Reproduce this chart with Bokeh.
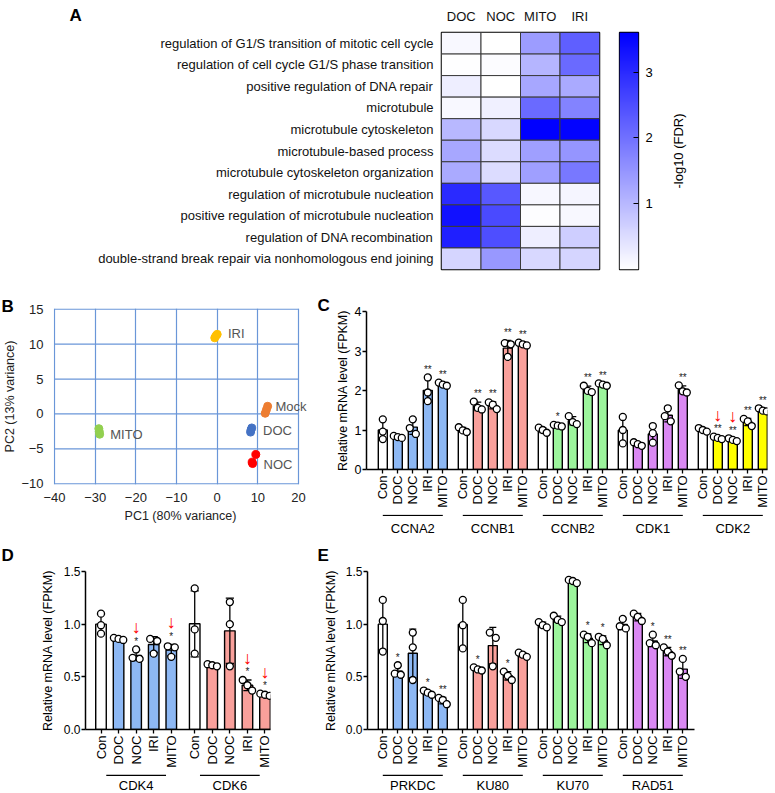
import math
import numpy as np
from bokeh.plotting import figure
from bokeh.models import (Range1d, FactorRange, FixedTicker, Title, Spacer,
                          LinearColorMapper, ColumnDataSource, NumeralTickFormatter)
from bokeh.layouts import row, column
from bokeh.embed import file_html
from bokeh.resources import INLINE
from bokeh.core.properties import value
from bokeh.transform import linear_cmap

FONT = "Liberation Sans"

# ---------------- Panel A data ----------------
go_terms = [
    "regulation of G1/S transition of mitotic cell cycle",
    "regulation of cell cycle G1/S phase transition",
    "positive regulation of DNA repair",
    "microtubule",
    "microtubule cytoskeleton",
    "microtubule-based process",
    "microtubule cytoskeleton organization",
    "regulation of microtubule nucleation",
    "positive regulation of microtubule nucleation",
    "regulation of DNA recombination",
    "double-strand break repair via nonhomologous end joining",
]
heat_conditions = ["DOC", "NOC", "MITO", "IRI"]
heat_DOC = [0.10, 0.02, 0.25, 0.10, 1.00, 1.25, 1.20, 3.00, 3.35, 3.15, 0.60]
heat_NOC = [0.00, 0.05, 0.00, 0.22, 0.55, 0.50, 0.50, 2.35, 2.55, 2.50, 1.45]
heat_MITO = [1.40, 1.05, 1.25, 2.10, 3.60, 1.35, 1.35, 0.12, 0.03, 0.25, 0.55]
heat_IRI = [2.25, 2.10, 1.20, 1.75, 3.55, 1.50, 1.90, 0.15, 0.10, 0.70, 0.60]
heat_max = 3.6
cbar_ticks = [1, 2, 3]

# ---------------- Panel B data ----------------
pca_groups = ["IRI", "MITO", "Mock", "DOC", "NOC"]
pca_colors = ["#FFC000", "#92D050", "#ED7D31", "#4472C4", "#FF0000"]
pc1_IRI = [-0.6, -0.3, 0.0]
pc2_IRI = [10.9, 11.2, 11.4]
pc1_MITO = [-29.1, -29.0, -28.9]
pc2_MITO = [-2.1, -2.5, -2.9]
pc1_Mock = [12.4, 12.1, 11.8]
pc2_Mock = [1.1, 0.6, 0.1]
pc1_DOC = [8.5, 8.3, 8.2]
pc2_DOC = [-2.0, -2.3, -2.6]
pc1_NOC = [9.5, 8.6, 8.7]
pc2_NOC = [-5.8, -6.9, -7.1]
pc1_ticks = [-40, -30, -20, -10, 0, 10, 20]
pc2_ticks = [-10, -5, 0, 5, 10, 15]
pca_label_dx = [12, 11, 9, 12, 10]
pca_label_dy = [-2, 3, -3, 0, 4]

# ---------------- Bar panels data ----------------
conditions = ["Con", "DOC", "NOC", "IRI", "MITO"]

C_genes = ["CCNA2", "CCNB1", "CCNB2", "CDK1", "CDK2"]
CCNA2_pts = [[1.27, 0.96, 0.77], [0.85, 0.82, 0.80], [1.27, 1.05, 0.90], [2.33, 1.95, 1.73], [2.20, 2.15, 2.12]]
CCNB1_pts = [[1.07, 0.99, 0.95], [1.72, 1.56, 1.52], [1.70, 1.64, 1.53], [3.20, 3.17, 2.85], [3.21, 3.17, 3.14]]
CCNB2_pts = [[1.06, 1.00, 0.93], [1.13, 1.11, 1.09], [1.35, 1.20, 1.15], [2.12, 1.99, 1.96], [2.18, 2.15, 2.12]]
CDK1_pts = [[1.33, 1.00, 0.66], [0.69, 0.64, 0.60], [1.10, 0.92, 0.68], [1.55, 1.35, 1.22], [2.13, 1.98, 1.95]]
CDK2_pts = [[1.05, 1.00, 0.96], [0.83, 0.80, 0.77], [0.79, 0.75, 0.72], [1.28, 1.22, 1.10], [1.55, 1.49, 1.47]]
CCNA2_sig = ["", "", "", "**", "**"]
CCNB1_sig = ["", "**", "**", "**", "**"]
CCNB2_sig = ["", "*", "", "**", "**"]
CDK1_sig = ["", "", "", "", "**"]
CDK2_sig = ["", "**", "**", "**", "**"]
CDK2_arrow = [0, 1, 1, 0, 0]
no_arrow = [0, 0, 0, 0, 0]

D_genes = ["CDK4", "CDK6"]
CDK4_pts = [[1.10, 0.99, 0.91], [0.87, 0.86, 0.85], [0.76, 0.68, 0.67], [0.86, 0.84, 0.72], [0.79, 0.78, 0.69]]
CDK6_pts = [[1.34, 0.95, 0.72], [0.62, 0.61, 0.60], [1.21, 1.00, 0.60], [0.47, 0.42, 0.37], [0.34, 0.33, 0.32]]
CDK4_sig = ["", "", "*", "", "*"]
CDK6_sig = ["", "", "", "*", "*"]
CDK4_arrow = [0, 0, 1, 0, 1]
CDK6_arrow = [0, 0, 0, 1, 1]

E_genes = ["PRKDC", "KU80", "KU70", "RAD51"]
PRKDC_pts = [[1.23, 1.03, 0.74], [0.61, 0.53, 0.52], [0.92, 0.78, 0.47], [0.37, 0.35, 0.33], [0.30, 0.28, 0.24]]
KU80_pts = [[1.23, 0.99, 0.77], [0.59, 0.57, 0.56], [0.92, 0.87, 0.60], [0.55, 0.51, 0.47], [0.73, 0.71, 0.69]]
KU70_pts = [[1.02, 0.99, 0.97], [1.08, 1.04, 1.02], [1.42, 1.41, 1.39], [0.90, 0.88, 0.82], [0.88, 0.86, 0.80]]
RAD51_pts = [[1.05, 0.98, 0.96], [1.10, 1.07, 1.03], [0.90, 0.82, 0.80], [0.78, 0.74, 0.70], [0.67, 0.55, 0.50]]
PRKDC_sig = ["", "*", "", "*", "**"]
KU80_sig = ["", "*", "", "*", ""]
KU70_sig = ["", "", "**", "*", "*"]
RAD51_sig = ["", "", "*", "**", "**"]

BLUE, SALMON, GREEN, VIOLET, YELLOW = "#8DB8F4", "#F9A09B", "#9CF59C", "#DA88F2", "#FFFF00"


def fig(**kw):
    return figure(output_backend="svg", toolbar_location=None, **kw)


def blank(p):
    p.outline_line_color = None
    p.xgrid.visible = False
    p.ygrid.visible = False


def title_letter(p, txt, dx, standoff):
    t = Title(text=txt, align="left", offset=dx, standoff=0, vertical_align="bottom",
              text_font=FONT, text_font_size="17px", text_font_style="bold", text_color="black")
    try:
        t.standoff = standoff
    except Exception:
        pass
    p.add_layout(t, "above")


def letter_strip(width, height, letters, xs, base):
    s = fig(width=width, height=height, x_range=Range1d(0, width), y_range=Range1d(height, 0),
            x_axis_location=None, y_axis_location=None,
            min_border_left=0, min_border_right=0, min_border_top=0, min_border_bottom=0)
    blank(s)
    s.text(x=xs, y=[base] * len(letters), text=letters, text_font=value(FONT),
           text_font_size="17px", text_font_style="bold", text_color="black",
           text_align="left", text_baseline="alphabetic")
    return s


# ---------------- Panel A ----------------
pal = ["#%02x%02x%02x" % (int(round(255 * (1 - t))), int(round(255 * (1 - t))), 255)
       for t in np.linspace(0, 1, 256)]
hx, hy, hv = [], [], []
for cond, vals in zip(heat_conditions, [heat_DOC, heat_NOC, heat_MITO, heat_IRI]):
    for term, v in zip(go_terms, vals):
        hx.append(cond)
        hy.append(term)
        hv.append(v)
hsrc = ColumnDataSource(dict(x=hx, y=hy, v=hv))

colAL = column(letter_strip(95, 28, ["A"], [69], 15), Spacer(width=95, height=257))

pA = fig(width=515, height=285, x_range=FactorRange(*heat_conditions),
         y_range=FactorRange(*go_terms[::-1]), x_axis_location="above",
         min_border_left=346, min_border_right=11, min_border_top=32, min_border_bottom=16)
pA.rect(x="x", y="y", width=1, height=1, source=hsrc,
        fill_color=linear_cmap("v", pal, 0, heat_max), line_color="#3a3a3a", line_width=1)
pA.outline_line_color = "black"
pA.outline_line_width = 1.5
pA.xgrid.visible = False
pA.ygrid.visible = False
for ax, so in ((pA.xaxis[0], 9), (pA.yaxis[0], 8)):
    ax.axis_line_color = None
    ax.major_tick_line_color = None
    ax.minor_tick_line_color = None
    ax.major_tick_out = 0
    ax.major_tick_in = 0
    ax.major_label_standoff = so
    ax.major_label_text_font = FONT
    ax.major_label_text_font_size = "13px"
    ax.major_label_text_color = "#111111"

pCB = fig(width=50, height=285, x_range=Range1d(0, 1), y_range=Range1d(0, heat_max),
          y_axis_location="right",
          min_border_left=9, min_border_right=22, min_border_top=32, min_border_bottom=16)
grad = np.linspace(0, heat_max, 240).reshape(-1, 1)
pCB.image(image=[grad], x=0, y=0, dw=1, dh=heat_max,
          color_mapper=LinearColorMapper(palette=pal, low=0, high=heat_max))
pCB.xaxis.visible = False
pCB.xgrid.visible = False
pCB.ygrid.visible = False
pCB.outline_line_color = "black"
pCB.outline_line_width = 1.3
ya = pCB.yaxis[0]
ya.ticker = FixedTicker(ticks=cbar_ticks)
ya.axis_line_color = None
ya.major_tick_in = 5
ya.major_tick_out = 0
ya.minor_tick_line_color = None
ya.major_label_standoff = 7
ya.major_label_text_font = FONT
ya.major_label_text_font_size = "13px"
ya.major_label_text_color = "black"

# strip whose left axis carries the colour-bar title (reads bottom-to-top)
pLab = fig(width=114, height=285, x_range=Range1d(0, 1), y_range=Range1d(0, heat_max),
           x_axis_location=None,
           min_border_left=25, min_border_right=0, min_border_top=32, min_border_bottom=16)
blank(pLab)
la = pLab.yaxis[0]
la.ticker = FixedTicker(ticks=[])
la.axis_line_color = None
la.major_tick_line_color = None
la.minor_tick_line_color = None
la.major_tick_out = 0
la.major_tick_in = 0
la.major_label_standoff = 0
la.axis_label = "-log10 (FDR)"
la.axis_label_standoff = 0
la.axis_label_text_font = FONT
la.axis_label_text_font_size = "13px"
la.axis_label_text_font_style = "normal"
la.axis_label_text_color = "black"

# ---------------- Panel B ----------------
pB = fig(width=310, height=251, x_range=Range1d(-40.25, 22.2), y_range=Range1d(-10.1, 15.1),
         min_border_left=53, min_border_right=3, min_border_top=23, min_border_bottom=52)
GRIDC = "#6A96D8"
pB.xaxis.ticker = FixedTicker(ticks=pc1_ticks)
pB.yaxis.ticker = FixedTicker(ticks=pc2_ticks)
pB.xgrid.grid_line_color = GRIDC
pB.xgrid.grid_line_width = 1.2
pB.ygrid.visible = False
pB.outline_line_color = None
pB.segment(x0=[pc1_ticks[0]] * len(pc2_ticks), x1=[pc1_ticks[-1]] * len(pc2_ticks),
           y0=pc2_ticks, y1=pc2_ticks, line_color=GRIDC, line_width=1.2)
for ax, lab, st, ls in ((pB.xaxis[0], "PC1 (80% variance)", 8, 4),
                        (pB.yaxis[0], "PC2 (13% variance)", 10, 1)):
    ax.axis_line_color = None
    ax.major_tick_line_color = None
    ax.minor_tick_line_color = None
    ax.major_tick_out = 0
    ax.major_tick_in = 0
    ax.major_label_standoff = st
    ax.major_label_text_font = FONT
    ax.major_label_text_font_size = "13px"
    ax.major_label_text_color = "#222222"
    ax.axis_label = lab
    ax.axis_label_text_font = FONT
    ax.axis_label_text_font_size = "12.5px"
    ax.axis_label_text_font_style = "normal"
    ax.axis_label_text_color = "#222222"
    ax.axis_label_standoff = ls
pca_x = [pc1_IRI, pc1_MITO, pc1_Mock, pc1_DOC, pc1_NOC]
pca_y = [pc2_IRI, pc2_MITO, pc2_Mock, pc2_DOC, pc2_NOC]
for name, col, xs, ys, dx, dy in zip(pca_groups, pca_colors, pca_x, pca_y, pca_label_dx, pca_label_dy):
    pB.scatter(x=xs, y=ys, size=8, fill_color=col, line_color=col)
    pB.text(x=[float(np.mean(xs))], y=[float(np.mean(ys))], text=[name], x_offset=dx, y_offset=dy,
            text_font=value(FONT), text_font_size="13px", text_color="#555555",
            text_align="left", text_baseline="middle")
title_letter(pB, "B", -52, -14)


# ---------------- Bar panels ----------------
def spread(vals, thr):
    v = np.array(vals, dtype=float)
    order = np.argsort(-v)
    off = np.zeros(len(v))
    clusters, cur = [], [order[0]]
    for a, b in zip(order[:-1], order[1:]):
        if v[a] - v[b] < thr:
            cur.append(b)
        else:
            clusters.append(cur)
            cur = [b]
    clusters.append(cur)
    for cl in clusters:
        if len(cl) == 2:
            off[cl[0]], off[cl[1]] = -0.6, 0.6
        elif len(cl) == 3:
            off[cl[0]], off[cl[1]], off[cl[2]] = -0.8, 0.0, 0.8
    return off


def bar_panel(genes, pts, sigs, arrows, colors, width, height, left, right, top, bottom,
              px_first, axis_px, frame_right_px, slot_px, y_end, y_ticks, y_fmt, ytick_size,
              ylab_standoff, g_height, half_line, line_y, text_y, cat_font):
    x_start = -(px_first - axis_px) / slot_px
    x_end = (frame_right_px - px_first) / slot_px
    xr = Range1d(x_start, x_end)
    p = fig(width=width, height=height, x_range=xr, y_range=Range1d(0, y_end),
            min_border_left=left, min_border_right=right, min_border_top=top,
            min_border_bottom=bottom)
    xs, means, los, his, fills = [], [], [], [], []
    pxs, pys, sx, sy, st, ax_, ay_ = [], [], [], [], [], [], []
    overrides = {}
    thr = 0.045 * y_end
    for gi, (g, gp, gs, ga, gc) in enumerate(zip(genes, pts, sigs, arrows, colors)):
        for ci, cond in enumerate(conditions):
            x = gi * 16 + ci * 3
            v = np.array(gp[ci])
            m = float(v.mean())
            s = float(v.std(ddof=1))
            xs.append(x)
            means.append(m)
            los.append(m - s)
            his.append(m + s)
            fills.append("white" if ci == 0 else gc)
            overrides[x] = cond
            off = spread(v, thr)
            for val, o in zip(v, off):
                pxs.append(x + o)
                pys.append(float(val))
            topv = max(m + s, float(v.max()))
            if gs[ci]:
                sx.append(x)
                sy.append(topv)
                st.append(gs[ci])
            if ga[ci]:
                ax_.append(x)
                ay_.append(topv)
    xs_a = np.array(xs, dtype=float)
    p.vbar(x=xs, top=means, bottom=0, width=1.8, fill_color=fills, line_color="black", line_width=1.4)
    p.segment(x0=xs, y0=los, x1=xs, y1=his, line_color="black", line_width=1.3)
    p.segment(x0=list(xs_a - 0.7), y0=his, x1=list(xs_a + 0.7), y1=his, line_color="black", line_width=1.3)
    p.segment(x0=list(xs_a - 0.7), y0=los, x1=list(xs_a + 0.7), y1=los, line_color="black", line_width=1.3)
    p.scatter(x=pxs, y=pys, size=7, marker="circle", fill_color="white", line_color="black", line_width=1.3)
    if st:
        p.text(x=sx, y=sy, text=st, text_font=value(FONT), text_font_size="10px", text_color="#222222",
               text_align="center", text_baseline="middle", y_offset=-8)
    if ax_:
        p.text(x=ax_, y=ay_, text=["\u2193"] * len(ax_), text_font=value(FONT), text_font_size="18px",
               text_color="#FF0000", text_align="center", text_baseline="middle", y_offset=-22)
    p.xgrid.visible = False
    p.ygrid.visible = False
    p.outline_line_color = None
    xa = p.xaxis[0]
    xa.ticker = FixedTicker(ticks=xs)
    xa.major_label_overrides = overrides
    xa.major_label_orientation = math.pi / 2
    xa.axis_line_width = 1.5
    xa.axis_line_color = "black"
    xa.major_tick_line_color = "black"
    xa.major_tick_line_width = 1.3
    xa.major_tick_in = 0
    xa.major_tick_out = 4
    xa.minor_tick_line_color = None
    xa.major_label_standoff = 2
    xa.major_label_text_font = FONT
    xa.major_label_text_font_size = cat_font
    xa.major_label_text_color = "black"
    ya = p.yaxis[0]
    ya.ticker = FixedTicker(ticks=y_ticks)
    ya.formatter = NumeralTickFormatter(format=y_fmt)
    ya.axis_line_width = 1.5
    ya.axis_line_color = "black"
    ya.major_tick_line_color = "black"
    ya.major_tick_line_width = 1.3
    ya.major_tick_in = 0
    ya.major_tick_out = 4
    ya.minor_tick_line_color = None
    ya.major_label_standoff = 1
    ya.major_label_text_font = FONT
    ya.major_label_text_font_size = ytick_size
    ya.major_label_text_color = "black"
    ya.axis_label = "Relative mRNA level (FPKM)"
    ya.axis_label_text_font = FONT
    ya.axis_label_text_font_size = "12.5px"
    ya.axis_label_text_font_style = "normal"
    ya.axis_label_text_color = "black"
    ya.axis_label_standoff = ylab_standoff

    pg = fig(width=width, height=g_height, x_range=xr, y_range=Range1d(0, 1),
             x_axis_location=None, y_axis_location=None,
             min_border_left=left, min_border_right=right, min_border_top=0, min_border_bottom=0)
    blank(pg)
    centers = np.array([gi * 16 + 6 for gi in range(len(genes))], dtype=float)
    pg.segment(x0=list(centers - half_line), y0=[line_y] * len(genes), x1=list(centers + half_line),
               y1=[line_y] * len(genes), line_color="black", line_width=1.3)
    pg.text(x=list(centers), y=[text_y] * len(genes), text=genes, text_font=value(FONT),
            text_font_size="13px", text_color="black", text_align="center", text_baseline="middle")
    return p, pg


pC, pCg = bar_panel(C_genes, [CCNA2_pts, CCNB1_pts, CCNB2_pts, CDK1_pts, CDK2_pts],
                    [CCNA2_sig, CCNB1_sig, CCNB2_sig, CDK1_sig, CDK2_sig],
                    [no_arrow, no_arrow, no_arrow, no_arrow, CDK2_arrow],
                    [BLUE, SALMON, GREEN, VIOLET, YELLOW],
                    width=464, height=229, left=56, right=7, top=26, bottom=45,
                    px_first=382.3, axis_px=366, frame_right_px=767, slot_px=5.0,
                    y_end=4, y_ticks=[0, 1, 2, 3, 4], y_fmt="0", ytick_size="12.5px",
                    ylab_standoff=2, g_height=22, half_line=6, line_y=0.96, text_y=0.38,
                    cat_font="13px")
title_letter(pC, "C", -49, -7)

# strip holding the panel letters "D" and "E"
pS3 = letter_strip(774, 28, ["D", "E"], [1, 317], 19)

pD, pDg = bar_panel(D_genes, [CDK4_pts, CDK6_pts], [CDK4_sig, CDK6_sig], [CDK4_arrow, CDK6_arrow],
                    [BLUE, SALMON],
                    width=305, height=206, left=85, right=35, top=7, bottom=41,
                    px_first=100.5, axis_px=85, frame_right_px=270, slot_px=5.857,
                    y_end=1.5, y_ticks=[0, 0.5, 1.0, 1.5], y_fmt="0.0", ytick_size="12px",
                    ylab_standoff=6, g_height=22, half_line=5.1, line_y=0.78, text_y=0.34,
                    cat_font="13px")

pE, pEg = bar_panel(E_genes, [PRKDC_pts, KU80_pts, KU70_pts, RAD51_pts],
                    [PRKDC_sig, KU80_sig, KU70_sig, RAD51_sig],
                    [no_arrow, no_arrow, no_arrow, no_arrow],
                    [BLUE, SALMON, GREEN, VIOLET],
                    width=469, height=206, left=62, right=80, top=7, bottom=41,
                    px_first=382.3, axis_px=367, frame_right_px=694, slot_px=5.0,
                    y_end=1.5, y_ticks=[0, 0.5, 1.0, 1.5], y_fmt="0.0", ytick_size="12px",
                    ylab_standoff=5, g_height=22, half_line=6, line_y=0.78, text_y=0.34,
                    cat_font="13px")

layout = column(row(colAL, pA, pCB, pLab),
                row(pB, column(pC, pCg)),
                pS3,
                row(column(pD, pDg), column(pE, pEg)))

open("out.html", "w").write(file_html(layout, INLINE))
